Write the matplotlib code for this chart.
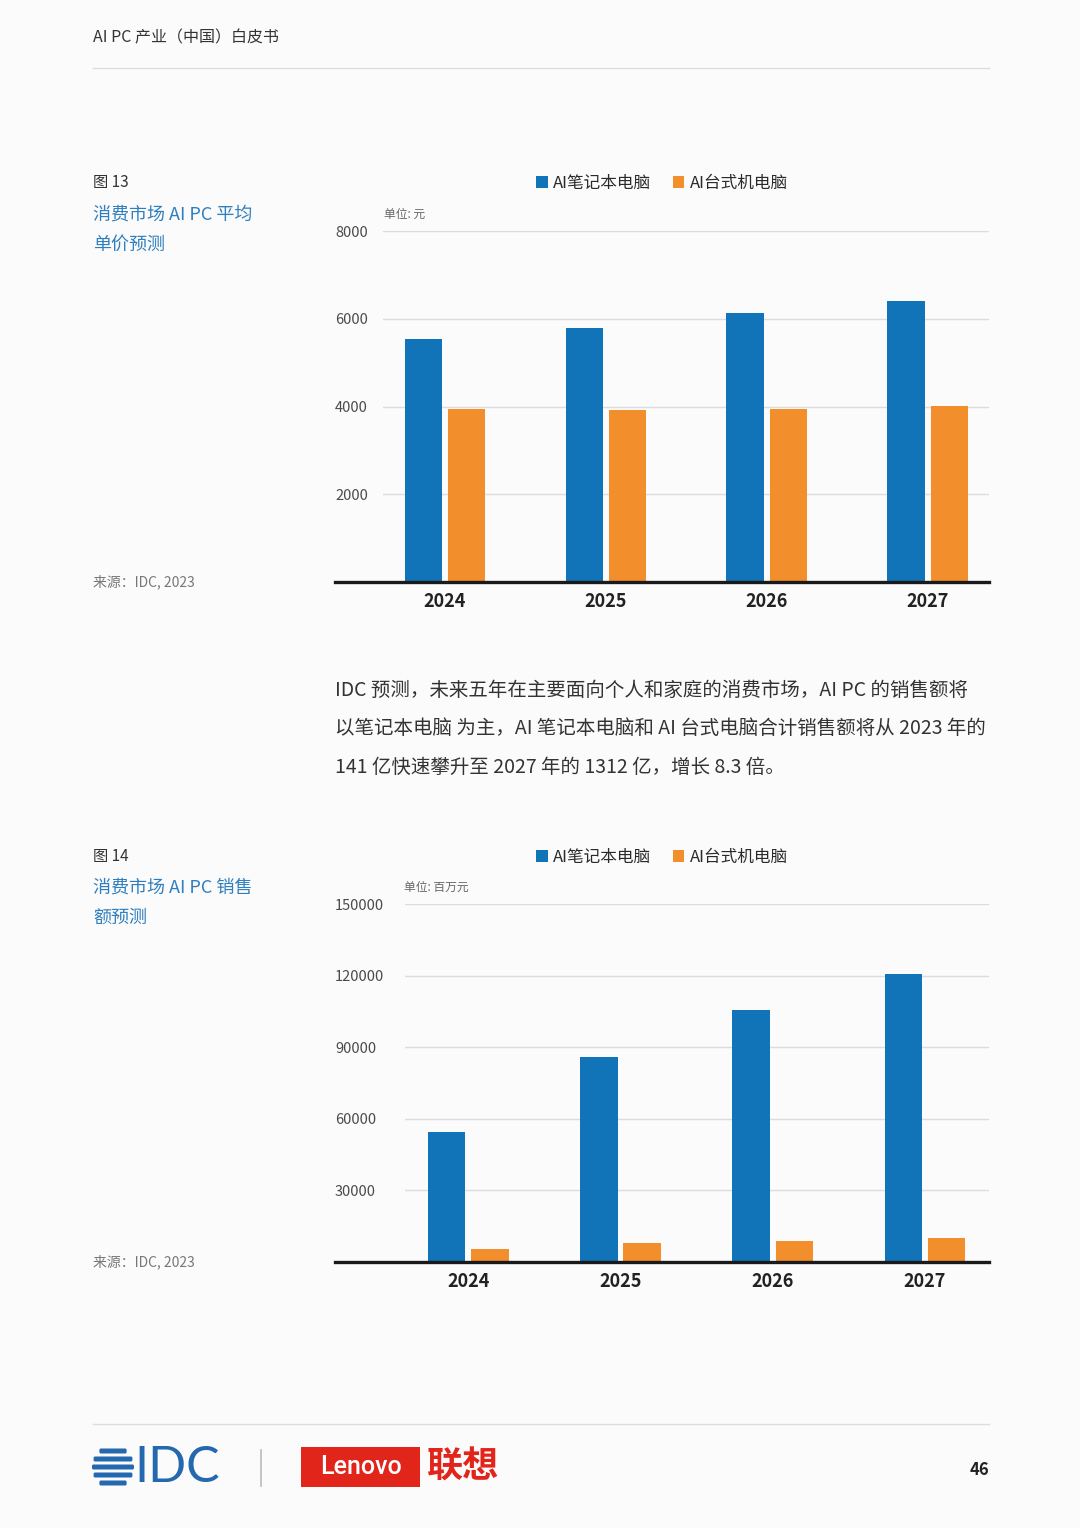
import matplotlib
matplotlib.use("Agg")
import matplotlib.pyplot as plt
from matplotlib.patches import Rectangle, FancyBboxPatch
import numpy as np

plt.rcParams['font.family'] = ['Noto Sans CJK SC', 'DejaVu Sans']

# ---------------- data ----------------
years = ['2024', '2025', '2026', '2027']
series_names = ['AI笔记本电脑', 'AI台式机电脑']
price_notebook = [5540, 5800, 6130, 6400]      # 元
price_desktop = [3940, 3920, 3940, 4020]
sales_notebook = [54600, 86100, 105600, 120700]  # 百万元
sales_desktop = [5400, 7950, 8900, 10200]
price_ticks = [2000, 4000, 6000, 8000]
sales_ticks = [30000, 60000, 90000, 120000, 150000]

BLUE = '#1274b8'
ORANGE = '#f28e2b'
BG = '#fbfbfb'
W, H = 1080, 1528

fig = plt.figure(figsize=(W / 100, H / 100), dpi=100, facecolor=BG)

# overlay for page decorations, pixel coordinates
ov = fig.add_axes([0, 0, 1, 1], zorder=0)
ov.set_xlim(0, W)
ov.set_ylim(H, 0)
ov.axis('off')
ov.patch.set_alpha(0)


def px_axes(left, top, right, bottom):
    return [left / W, 1 - bottom / H, (right - left) / W, (bottom - top) / H]


def bar_chart(rect, v1, v2, ymax, ticks, xlim, width, offset, label_left, unit, unit_xy, legend_y):
    ax = fig.add_axes(px_axes(*rect), zorder=1)
    ax.patch.set_alpha(0)
    x = np.arange(len(years))
    b1 = ax.bar(x - offset, v1, width, color=BLUE, zorder=3, label=series_names[0])
    b2 = ax.bar(x + offset, v2, width, color=ORANGE, zorder=3, label=series_names[1])
    ax.set_xlim(*xlim)
    ax.set_ylim(0, ymax)
    for t in ticks:
        ax.axhline(t, color='#dcdcdc', lw=1, zorder=1)
    axw = rect[2] - rect[0]
    ax.axhline(0, xmin=(label_left - rect[0]) / axw, xmax=1, color='#1a1a1a', lw=2.4,
               clip_on=False, zorder=4)
    for s in ax.spines.values():
        s.set_visible(False)
    ax.set_yticks(ticks)
    ax.set_yticklabels([str(t) for t in ticks])
    pad_pt = (rect[0] - label_left) * 72 / 100
    ax.tick_params(axis='y', length=0, pad=pad_pt, labelsize=10.5, labelcolor='#4a4a4a')
    for lab in ax.get_yticklabels():
        lab.set_horizontalalignment('left')
    ax.set_xticks(x)
    ax.set_xticklabels(years, fontsize=13, fontweight='bold', color='#222222')
    ax.tick_params(axis='x', length=0, pad=7)
    ov.text(unit_xy[0], unit_xy[1], unit, fontsize=8.5, color='#666666', va='center', ha='left')
    fig.legend(handles=[b1, b2], loc='center', bbox_to_anchor=(662 / W, 1 - legend_y / H),
               ncol=2, frameon=False, fontsize=12, handlelength=0.7, handleheight=0.7,
               handletextpad=0.3, columnspacing=1.3, labelcolor='#2a2a2a',
               prop={'size': 12, 'weight': 'medium'})
    return ax


# chart 13
bar_chart((383, 231, 989, 582), price_notebook, price_desktop, 8000, price_ticks,
          (-0.385, 3.381), 0.233, 0.134, 335, '单位: 元', (384, 214), 183)
# chart 14
bar_chart((405, 904, 989, 1262), sales_notebook, sales_desktop, 150000, sales_ticks,
          (-0.415, 3.42), 0.247, 0.142, 335, '单位: 百万元', (404, 887), 857)

# ---------------- page text ----------------
ov.text(93, 38, 'AI PC 产业（中国）白皮书', fontsize=11.5, color='#333333', va='center')
ov.plot([93, 989], [68, 68], color='#dddddd', lw=1)

TITLE = '#2f7fbf'
ov.text(93, 182, '图 13', fontsize=11, color='#333333', va='center', fontweight='medium')
ov.text(93, 215, '消费市场 AI PC 平均', fontsize=13, color=TITLE, va='center')
ov.text(93, 245, '单价预测', fontsize=13, color=TITLE, va='center')
ov.text(93, 582, '来源：IDC, 2023', fontsize=10, color='#777777', va='center')

para = ['IDC 预测，未来五年在主要面向个人和家庭的消费市场，AI PC 的销售额将',
        '以笔记本电脑 为主，AI 笔记本电脑和 AI 台式电脑合计销售额将从 2023 年的',
        '141 亿快速攀升至 2027 年的 1312 亿，增长 8.3 倍。']
for i, line in enumerate(para):
    ov.text(335, 690 + i * 38.5, line, fontsize=14.0, color='#333333', va='center')

ov.text(93, 856, '图 14', fontsize=11, color='#333333', va='center', fontweight='medium')
ov.text(93, 888, '消费市场 AI PC 销售', fontsize=13, color=TITLE, va='center')
ov.text(93, 918, '额预测', fontsize=13, color=TITLE, va='center')
ov.text(93, 1262, '来源：IDC, 2023', fontsize=10, color='#777777', va='center')

# ---------------- footer ----------------
ov.plot([93, 989], [1424, 1424], color='#dddddd', lw=1)
IDCBLUE = '#2468b0'
cx, cy, r = 113, 1467, 21
for dy in [-16, -8, 0, 8, 16]:
    hh = 5
    half = np.sqrt(max(r ** 2 - dy ** 2, 0))
    ov.add_patch(FancyBboxPatch((cx - half + 1.5, cy + dy - hh / 2 + 1.5), 2 * half - 3, hh - 3,
                                boxstyle='round,pad=1.5', color=IDCBLUE, lw=0))
ov.text(134, 1468, 'IDC', fontsize=36, color=IDCBLUE, va='center', ha='left',
        family=['Lato', 'DejaVu Sans'], fontweight='normal')
ov.plot([261, 261], [1450, 1486], color='#bbbbbb', lw=1.2)
ov.add_patch(Rectangle((301, 1447), 119, 40, color='#e1251b', lw=0))
ov.text(360.5, 1467, 'Lenovo', fontsize=18, color='white', va='center', ha='center',
        family=['Roboto', 'DejaVu Sans'], fontweight='medium')
ov.text(427, 1467, '联想', fontsize=26, color='#e1251b', va='center', ha='left', fontweight='bold')
ov.text(989, 1470, '46', fontsize=12, color='#222222', va='center', ha='right', fontweight='bold')

fig.savefig('out.png', dpi=100, facecolor=BG)
